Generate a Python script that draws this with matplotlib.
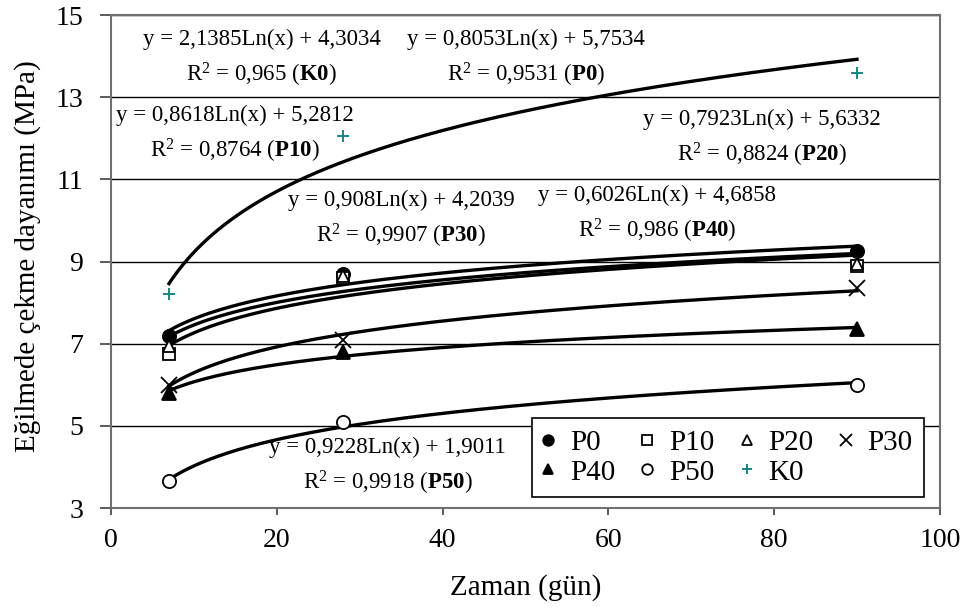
import numpy as np
import matplotlib
matplotlib.use("Agg")
import matplotlib.pyplot as plt

plt.rcParams['font.family'] = ['Liberation Serif', 'DejaVu Serif']
plt.rcParams['mathtext.fontset'] = 'custom'
plt.rcParams['mathtext.rm'] = 'Liberation Serif'
plt.rcParams['mathtext.it'] = 'Liberation Serif:italic'
plt.rcParams['mathtext.bf'] = 'Liberation Serif:bold'

# data (days, MPa)
days = [7, 28, 90]
series = ["P0", "P10", "P20", "P30", "P40", "P50", "K0"]
p0 = [7.2, 8.7, 9.25]
p10 = [6.75, 8.6, 8.9]
p20 = [6.95, 8.65, 8.95]
p30 = [6.0, 7.1, 8.35]
p40 = [5.8, 6.8, 7.35]
p50 = [3.65, 5.1, 6.0]
k0 = [8.2, 12.05, 13.6]

# trendline coefficients y = a*ln(x) + b (as printed on the chart)
coef_a = [0.8053, 0.8618, 0.7923, 0.908, 0.6026, 0.9228, 2.1385]
coef_b = [5.7534, 5.2812, 5.6332, 4.2039, 4.6858, 1.9011, 4.3034]
eq_a = ["0,8053", "0,8618", "0,7923", "0,908", "0,6026", "0,9228", "2,1385"]
eq_b = ["5,7534", "5,2812", "5,6332", "4,2039", "4,6858", "1,9011", "4,3034"]
r2 = ["0,9531", "0,8764", "0,8824", "0,9907", "0,986", "0,9918", "0,965"]

values = [p0, p10, p20, p30, p40, p50, k0]
markers = ["o", "s", "^", "x", "^", "o", "+"]
facecols = ["black", "white", "white", "black", "black", "white", "#008080"]
edgecols = ["black", "black", "black", "black", "black", "black", "#008080"]
msizes = [9.5, 8.5, 9, 11, 9.5, 9.5, 9]

# equation label centres (data coords)
label_pos = [(50.1, 14.4), (15.0, 12.55), (78.5, 12.46), (35.0, 10.48),
             (65.9, 10.61), (33.4, 4.48), (18.2, 14.4)]

fig = plt.figure(figsize=(9.65, 6.07), dpi=100)
ax = fig.add_axes([0.115, 0.163, 0.859, 0.812])

xs = np.linspace(7, 90, 200)
for i in range(len(series)):
    ax.plot(xs, coef_a[i] * np.log(xs) + coef_b[i], color="black", lw=2.4, zorder=3)

handles = []
for i, name in enumerate(series):
    h, = ax.plot(days, values[i], linestyle="none", marker=markers[i], markersize=msizes[i],
                 markerfacecolor=facecols[i], markeredgecolor=edgecols[i],
                 markeredgewidth=1.3, color=edgecols[i], label=name, zorder=4)
    handles.append(h)

for i, name in enumerate(series):
    x, y = label_pos[i]
    ax.text(x, y, "y = %sLn(x) + %s" % (eq_a[i], eq_b[i]), ha="center", va="center", fontsize=16.5)
    ax.text(x, y - 0.86, r"R$^2$ = %s ($\mathbf{%s}$)" % (r2[i], name),
            ha="center", va="center", fontsize=16.5)

ax.set_xlim(0, 100)
ax.set_ylim(3, 15)
ax.set_xticks(range(0, 101, 20))
ax.set_yticks(range(3, 16, 2))
ax.yaxis.grid(True, color="black", lw=1)
ax.set_axisbelow(True)
for s in ax.spines.values():
    s.set_color("#707070")
    s.set_linewidth(1.5)
ax.tick_params(labelsize=20, direction="out", color="#404040", width=1.2)
ax.tick_params(axis="x", length=5, pad=9)
ax.tick_params(axis="y", length=8, pad=12)

ax.set_xlabel("Zaman (gün)", fontsize=21)
ax.set_ylabel("Eğilmede çekme dayanımı (MPa)", fontsize=21)
ax.xaxis.label.set_va("center")
ax.yaxis.label.set_va("center")
ax.xaxis.set_label_coords(0.5, -0.162)
ax.yaxis.set_label_coords(-0.101, 0.511)

order = [0, 4, 1, 5, 2, 6, 3]
leg = ax.legend([handles[k] for k in order], [series[k] for k in order], ncol=4,
                loc="lower left", bbox_to_anchor=(0.508, 0.022), borderaxespad=0,
                fontsize=21, frameon=True, fancybox=False, edgecolor="black",
                framealpha=1, markerscale=0.8, handlelength=0.3, handletextpad=0.6,
                columnspacing=0.95, borderpad=0.4, labelspacing=0.1)
leg.get_frame().set_linewidth(1.2)

fig.savefig("out.png", dpi=100)
